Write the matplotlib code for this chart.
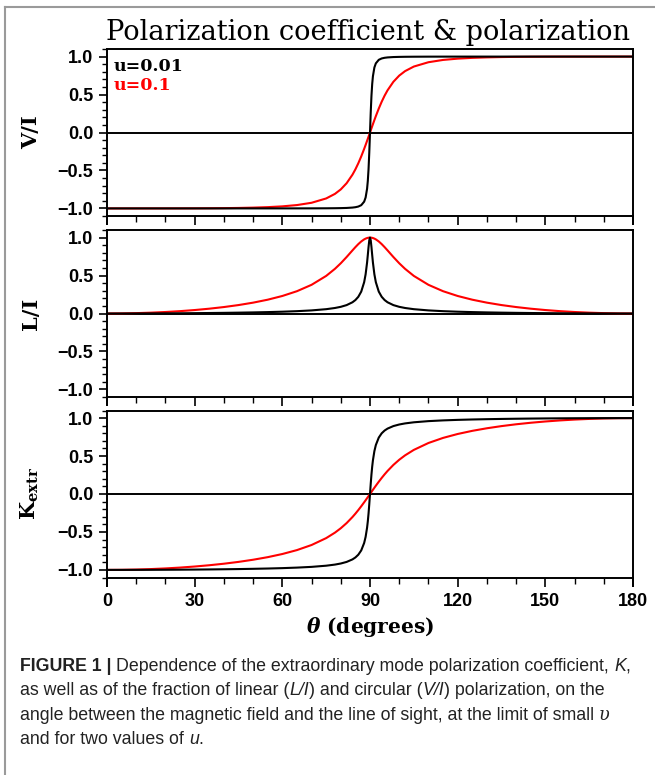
import matplotlib
matplotlib.use("Agg")
import matplotlib.pyplot as plt
from matplotlib.lines import Line2D
from matplotlib.ticker import MultipleLocator

# Angle between field and line of sight (degrees), denser near 90
theta = [0, 5, 10, 15, 20, 25, 30, 35, 40, 45, 50, 55, 60, 65, 70, 75, 78, 80, 82, 84,
         85, 86, 87, 88, 88.5, 89, 89.25, 89.5, 89.75, 90,
         90.25, 90.5, 90.75, 91, 91.5, 92, 93, 94, 95, 96, 98, 100, 102, 105, 110, 115,
         120, 125, 130, 135, 140, 145, 150, 155, 160, 165, 170, 175, 180]

# V/I
v_red = [-1.0, -1.0, -1.0, -0.9999, -0.9998, -0.9995, -0.999, -0.998, -0.9964, -0.9938,
         -0.9897, -0.9833, -0.973, -0.9559, -0.9258, -0.8688, -0.8086, -0.7496, -0.668, -0.5557,
         -0.4856, -0.4053, -0.315, -0.2158, -0.1635, -0.1097, -0.0825, -0.0551, -0.0276, 0.0,
         0.0276, 0.0551, 0.0825, 0.1097, 0.1635, 0.2158, 0.315, 0.4053, 0.4856, 0.5557,
         0.668, 0.7496, 0.8086, 0.8688, 0.9258, 0.9559, 0.973, 0.9833, 0.9897, 0.9938,
         0.9964, 0.998, 0.999, 0.9995, 0.9998, 0.9999, 1.0, 1.0, 1.0]
v_black = [-1.0, -1.0, -1.0, -1.0, -1.0, -1.0, -1.0, -1.0, -1.0, -0.9999,
           -0.9999, -0.9998, -0.9997, -0.9995, -0.9992, -0.9984, -0.9974, -0.9961, -0.9939, -0.989,
           -0.9842, -0.9755, -0.9575, -0.9111, -0.8562, -0.7412, -0.6378, -0.4833, -0.2661, 0.0,
           0.2661, 0.4833, 0.6378, 0.7412, 0.8562, 0.9111, 0.9575, 0.9755, 0.9842, 0.989,
           0.9939, 0.9961, 0.9974, 0.9984, 0.9992, 0.9995, 0.9997, 0.9998, 0.9999, 0.9999,
           1.0, 1.0, 1.0, 1.0, 1.0, 1.0, 1.0, 1.0, 1.0]

# L/I, middle panel
l_red = [0.0, 0.0012, 0.0048, 0.011, 0.0197, 0.0311, 0.0456, 0.0634, 0.085, 0.1111,
         0.1429, 0.1819, 0.2308, 0.2938, 0.3779, 0.4952, 0.5884, 0.6619, 0.7442, 0.8314,
         0.8742, 0.9142, 0.9491, 0.9764, 0.9866, 0.994, 0.9966, 0.9985, 0.9996, 1.0,
         0.9996, 0.9985, 0.9966, 0.994, 0.9866, 0.9764, 0.9491, 0.9142, 0.8742, 0.8314,
         0.7442, 0.6619, 0.5884, 0.4952, 0.3779, 0.2938, 0.2308, 0.1819, 0.1429, 0.1111,
         0.085, 0.0634, 0.0456, 0.0311, 0.0197, 0.011, 0.0048, 0.0012, 0.0]
l_black = [0.0, 0.0001, 0.0005, 0.0011, 0.002, 0.0031, 0.0046, 0.0064, 0.0085, 0.0112,
           0.0144, 0.0185, 0.0237, 0.0307, 0.0408, 0.0569, 0.0726, 0.088, 0.1107, 0.148,
           0.1772, 0.22, 0.2885, 0.4123, 0.5167, 0.6714, 0.7702, 0.8755, 0.964, 1.0,
           0.964, 0.8755, 0.7702, 0.6714, 0.5167, 0.4123, 0.2885, 0.22, 0.1772, 0.148,
           0.1107, 0.088, 0.0726, 0.0569, 0.0408, 0.0307, 0.0237, 0.0185, 0.0144, 0.0112,
           0.0085, 0.0064, 0.0046, 0.0031, 0.002, 0.0011, 0.0005, 0.0001, 0.0]

# K_extr, bottom panel
k_red = [-1.0, -0.9988, -0.9952, -0.9891, -0.9805, -0.9693, -0.9554, -0.9385, -0.9184, -0.8944,
         -0.866, -0.832, -0.7906, -0.7389, -0.6719, -0.5811, -0.5091, -0.451, -0.383, -0.3034,
         -0.2591, -0.2117, -0.1616, -0.1092, -0.0823, -0.055, -0.0413, -0.0276, -0.0138, 0.0,
         0.0138, 0.0276, 0.0413, 0.055, 0.0823, 0.1092, 0.1616, 0.2117, 0.2591, 0.3034,
         0.383, 0.451, 0.5091, 0.5811, 0.6719, 0.7389, 0.7906, 0.832, 0.866, 0.8944,
         0.9184, 0.9385, 0.9554, 0.9693, 0.9805, 0.9891, 0.9952, 0.9988, 1.0]
k_black = [-1.0, -0.9999, -0.9995, -0.9989, -0.998, -0.9969, -0.9955, -0.9937, -0.9915, -0.9889,
           -0.9857, -0.9817, -0.9766, -0.9697, -0.96, -0.9446, -0.9299, -0.9156, -0.8948, -0.8615,
           -0.8361, -0.7996, -0.7431, -0.6451, -0.5645, -0.4434, -0.3603, -0.2577, -0.1354, 0.0,
           0.1354, 0.2577, 0.3603, 0.4434, 0.5645, 0.6451, 0.7431, 0.7996, 0.8361, 0.8615,
           0.8948, 0.9156, 0.9299, 0.9446, 0.96, 0.9697, 0.9766, 0.9817, 0.9857, 0.9889,
           0.9915, 0.9937, 0.9955, 0.9969, 0.998, 0.9989, 0.9995, 0.9999, 1.0]

legend_labels = ["u=0.01", "u=0.1"]
y_labels = ["V/I", "L/I", r"$\mathbf{K_{extr}}$"]

plt.rcParams["mathtext.fontset"] = "dejavuserif"
plt.rcParams["font.family"] = "Liberation Sans"

W, H = 655, 775
fig = plt.figure(figsize=(W / 100, H / 100), dpi=100)
SERIF = "DejaVu Serif"

# pixel boxes (top, bottom) of the three panels
boxes = [(49, 216), (230, 397), (410.5, 577.5)]
series = [(v_red, v_black), (l_red, l_black), (k_red, k_black)]

axes = []
for i, ((top, bottom), (red, black)) in enumerate(zip(boxes, series)):
    ax = fig.add_axes([107 / W, 1 - bottom / H, 526 / W, (bottom - top) / H])
    ax.axhline(0, color="black", lw=1.4, zorder=1)
    ax.plot(theta, red, color="#ff0000", lw=1.5, zorder=2)
    ax.plot(theta, black, color="black", lw=1.5, zorder=3)
    ax.set_xlim(0, 180)
    ax.set_ylim(-1.1, 1.1)
    ax.yaxis.set_major_locator(MultipleLocator(0.5))
    ax.yaxis.set_minor_locator(MultipleLocator(0.1))
    ax.xaxis.set_major_locator(MultipleLocator(30))
    ax.xaxis.set_minor_locator(MultipleLocator(10))
    ax.tick_params(axis="y", which="major", direction="out", length=5.8, width=1.2,
                   labelsize=13, pad=4)
    ax.tick_params(axis="y", which="minor", direction="out", length=3.4, width=1.0)
    ax.tick_params(axis="x", which="major", direction="out", length=6.5, width=1.2,
                   labelsize=13, pad=5)
    ax.tick_params(axis="x", which="minor", direction="out", length=4.3, width=1.0)
    for lab in ax.get_yticklabels() + ax.get_xticklabels():
        lab.set_fontweight("bold")
    if i < 2:
        ax.tick_params(axis="x", which="both", labelbottom=False)
    for sp in ax.spines.values():
        sp.set_linewidth(1.4)
    # side spines run a little past the bottom axis line
    ext = 8 / (bottom - top)
    for xa in (0, 1):
        ax.add_line(Line2D([xa, xa], [0, -ext], transform=ax.transAxes,
                           color="black", lw=1.4, clip_on=False))
    ax.set_ylabel(y_labels[i], family=SERIF, fontweight="bold", fontsize=15)
    ax.yaxis.set_label_coords(-0.125, 0.5)
    axes.append(ax)

axes[2].set_xlabel(r"$\mathbfit{\theta}$ (degrees)", family=SERIF, fontweight="bold",
                   fontsize=14.5, labelpad=3)

# legend text in the top panel
axes[0].text(0.012, 0.895, legend_labels[0], transform=axes[0].transAxes, family=SERIF,
             fontweight="bold", fontsize=12.5, color="black", va="center")
axes[0].text(0.012, 0.78, legend_labels[1], transform=axes[0].transAxes, family=SERIF,
             fontweight="bold", fontsize=12.5, color="#ff0000", va="center")

fig.text(368 / W, 1 - 32 / H, "Polarization coefficient & polarization", family=SERIF,
         fontsize=19.6, ha="center", va="center")

# frame lines of the page
fig.add_artist(Line2D([5 / W, 5 / W], [0, 1 - 7 / H], transform=fig.transFigure,
                      color="#9a9a9a", lw=1.5))
fig.add_artist(Line2D([5 / W, 1], [1 - 7 / H, 1 - 7 / H], transform=fig.transFigure,
                      color="#9a9a9a", lw=1.5))

# caption, drawn run by run so styles can change inside a line
caption = [
    [("FIGURE 1 |", "bold"), (" Dependence of the extraordinary mode polarization coefficient, ", "normal"),
     ("K", "italic"), (",", "normal")],
    [("as well as of the fraction of linear (", "normal"), ("L/I", "italic"),
     (") and circular (", "normal"), ("V/I", "italic"), (") polarization, on the", "normal")],
    [("angle between the magnetic field and the line of sight, at the limit of small ", "normal"),
     ("\u03c5", "serif")],
    [("and for two values of ", "normal"), ("u", "italic"), (".", "normal")],
]
cap_size = 12.75
renderer = fig.canvas.get_renderer()


def text_props(style):
    props = dict(fontsize=cap_size, color="#222222", family="Liberation Sans")
    if style == "bold":
        props["fontweight"] = "bold"
    elif style == "italic":
        props["fontstyle"] = "italic"
    elif style == "serif":
        props["family"] = SERIF
        props["fontstyle"] = "italic"
    return props


def width_of(s, props):
    t = fig.text(0, 0, s, **props)
    w = t.get_window_extent(renderer).width
    t.remove()
    return w


for n, runs in enumerate(caption):
    x = 20.0
    y = 671 + n * 24.3
    for s, style in runs:
        props = text_props(style)
        space = width_of("a a", props) - width_of("aa", props)
        lead = len(s) - len(s.lstrip(" "))
        trail = len(s) - len(s.rstrip(" "))
        x += lead * space
        core = s.strip(" ")
        t = fig.text(x / W, 1 - y / H, core, va="baseline", ha="left", **props)
        x += t.get_window_extent(renderer).width + trail * space

fig.savefig("out.png", dpi=100)
